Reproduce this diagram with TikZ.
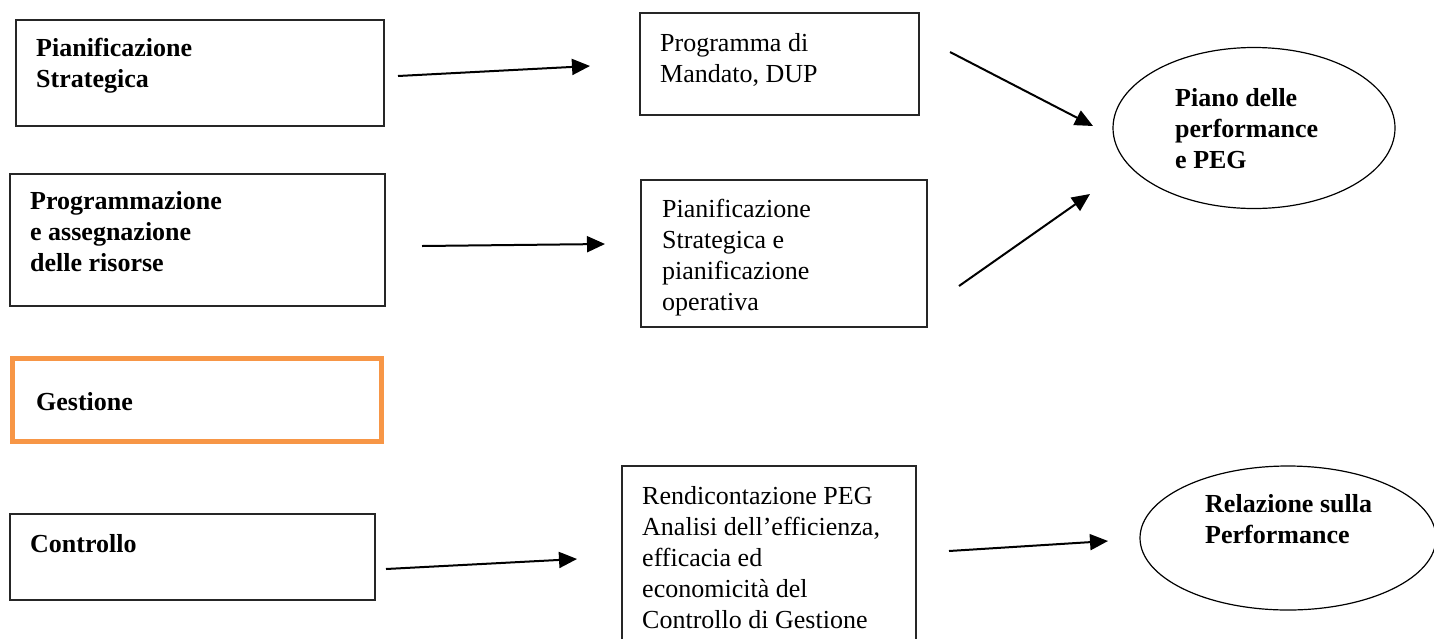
\documentclass[tikz,border=0pt]{standalone}
\usepackage{fontspec}
\setmainfont{Liberation Serif}
\usetikzlibrary{arrows.meta,shapes.geometric}
\definecolor{boxorange}{HTML}{F79646}
\tikzset{
  box/.style={draw=black!85, line width=1.4pt, rectangle, inner sep=0pt},
  obox/.style={draw=boxorange, line width=5pt, rectangle, inner sep=0pt},
  ell/.style={draw=black, line width=1.2pt, ellipse, inner sep=0pt},
  txt/.style={anchor=base west, inner sep=0pt, align=left, font=\fontsize{26}{31}\selectfont},
  btxt/.style={txt, font=\fontsize{26}{31}\selectfont\bfseries},
  arr/.style={line width=2pt, -{Triangle[length=18pt,width=16pt]}}
}
\begin{document}
\begin{tikzpicture}[x=1pt,y=-1pt]
\clip (0,0) rectangle (1434,638);
\fill[white] (0,0) rectangle (1434,638);
% boxes
\node[box, minimum width=368pt, minimum height=106pt] (b1) at (200,73) {};
\node[box, minimum width=279pt, minimum height=102pt] (b2) at (779.5,64) {};
\node[ell, minimum width=282pt, minimum height=161pt] (e1) at (1254,128) {};
\node[box, minimum width=375pt, minimum height=132pt] (b3) at (197.5,240) {};
\node[box, minimum width=286pt, minimum height=147pt] (b4) at (784,253.5) {};
\node[obox, minimum width=369pt, minimum height=83pt] (b5) at (196.5,399.5) {};
\node[box, minimum width=365pt, minimum height=86pt] (b6) at (192.5,557) {};
\node[box, minimum width=294pt, minimum height=200pt] (b7) at (769,566) {};
\node[ell, minimum width=296pt, minimum height=144pt] (e2) at (1288,538) {};
% texts (base anchor = baseline of the last line)
\node[btxt] (t1) at (36,87) {Pianificazione\\Strategica};
\node[txt] (t2) at (660,82) {Programma di\\Mandato, DUP};
\node[btxt] (t3) at (1175,168) {Piano delle\\performance\\e PEG};
\node[btxt] (t4) at (30,271) {Programmazione\\e assegnazione\\delle risorse};
\node[txt] (t5) at (662,310) {Pianificazione\\Strategica e\\pianificazione\\operativa};
\node[btxt] (t6) at (36,410) {Gestione};
\node[btxt] (t7) at (30,552) {Controllo};
\node[txt] (t8) at (642,628) {Rendicontazione PEG\\Analisi dell’efficienza,\\efficacia ed\\economicità del\\Controllo di Gestione};
\node[btxt] (t9) at (1205,543) {Relazione sulla\\Performance};
% arrow ends
\coordinate (a1s) at (398,76); \coordinate (a1e) at (590,66);
\coordinate (a2s) at (950,52); \coordinate (a2e) at (1093,126);
\coordinate (a3s) at (422,246); \coordinate (a3e) at (605,244);
\coordinate (a4s) at (959,286); \coordinate (a4e) at (1090,194);
\coordinate (a5s) at (386,569); \coordinate (a5e) at (577,559);
\coordinate (a6s) at (949,551); \coordinate (a6e) at (1108,541);
\draw[arr] (a1s) -- (a1e);
\draw[arr] (a2s) -- (a2e);
\draw[arr] (a3s) -- (a3e);
\draw[arr] (a4s) -- (a4e);
\draw[arr] (a5s) -- (a5e);
\draw[arr] (a6s) -- (a6e);
\end{tikzpicture}
\end{document}
